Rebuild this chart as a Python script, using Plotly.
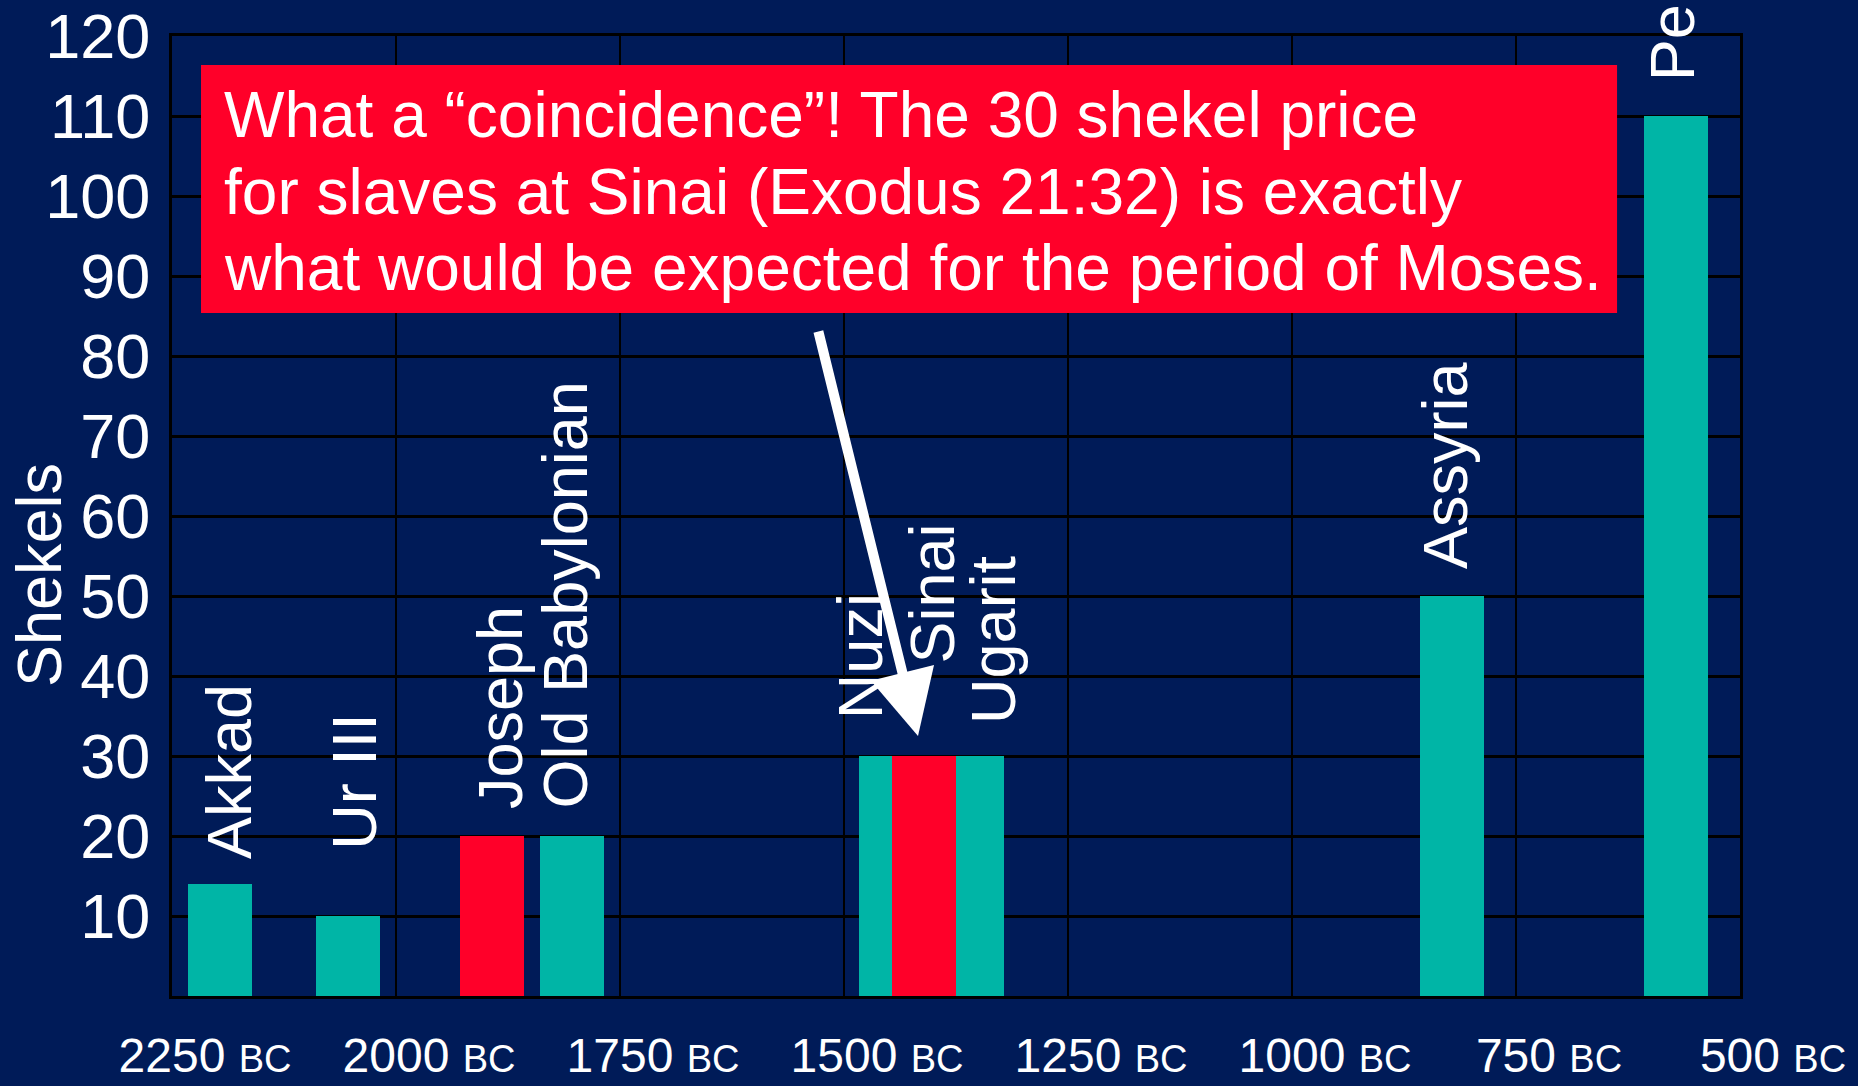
import plotly.graph_objects as go

# ---------------- data ----------------
teal_names = ["Akkad", "Ur III", "Old Babylonian", "Nuzi", "Ugarit", "Assyria", "Persia"]
teal_years = [2196, 2054, 1804, 1448, 1357, 821, 571]          # approx. years BC
teal_shekels = [14, 10, 20, 30, 30, 50, 110]

red_names = ["Joseph", "Sinai"]
red_years = [1893, 1411]
red_shekels = [20, 30]

tick_years = [2250, 2000, 1750, 1500, 1250, 1000, 750, 500]
tick_numbers = ["2250", "2000", "1750", "1500", "1250", "1000", "750", "500"]
era_label = "BC"
y_ticks = [10, 20, 30, 40, 50, 60, 70, 80, 90, 100, 110, 120]
y_title = "Shekels"

callout_lines = [
    "What a \u201ccoincidence\u201d! The 30 shekel price",
    "for slaves at Sinai (Exodus 21:32) is exactly",
    "what would be expected for the period of Moses.",
]

# ---------------- style ----------------
NAVY = "#001B58"
TEAL = "#00B5A6"
RED = "#FF0029"
WHITE = "#FFFFFF"
FONT = "Arial, 'Liberation Sans', sans-serif"
BAR_W = 71.4  # years

fig = go.Figure()
fig.add_trace(go.Bar(x=teal_years, y=teal_shekels, width=BAR_W, name="Other",
                     marker=dict(color=TEAL, line=dict(width=0)),
                     hovertext=teal_names, showlegend=False))
fig.add_trace(go.Bar(x=red_years, y=red_shekels, width=BAR_W, name="Biblical",
                     marker=dict(color=RED, line=dict(width=0)),
                     hovertext=red_names, showlegend=False))

ticktext = [f"{n} <span style='font-size:38px'>{era_label}</span>" for n in tick_numbers]

fig.update_layout(
    width=1858, height=1086,
    margin=dict(l=172, r=118, t=36, b=90, pad=0, autoexpand=False),
    paper_bgcolor=NAVY, plot_bgcolor=NAVY,
    barmode="overlay", bargap=0,
    font=dict(family=FONT, color=WHITE),
    xaxis=dict(range=[2250, 500], tickmode="array", tickvals=tick_years, ticktext=ticktext,
               showgrid=True, gridcolor="black", gridwidth=2, automargin=False,
               showline=True, linecolor="black", linewidth=3, mirror=True,
               zeroline=False, ticks="", tickfont=dict(size=48, color=WHITE, family=FONT),
               ticklabelshift=-33, ticklabelstandoff=15),
    yaxis=dict(range=[0, 120], tickmode="array", tickvals=y_ticks, automargin=False,
               showgrid=True, gridcolor="black", gridwidth=3,
               showline=True, linecolor="black", linewidth=3, mirror=True,
               zeroline=False, ticks="", tickfont=dict(size=63, color=WHITE, family=FONT),
               ticklabelstandoff=6),
)

# callout box
fig.add_shape(type="rect", xref="paper", yref="paper",
              x0=0.0185, x1=0.9216, y0=0.7115, y1=0.9698,
              fillcolor=RED, line=dict(width=0), layer="above")

annotations = []
# callout text lines
for line, yp in zip(callout_lines, [0.9177, 0.8375, 0.7583]):
    annotations.append(dict(text=line, xref="paper", yref="paper", x=0.0325, y=yp,
                            xanchor="left", yanchor="middle", showarrow=False,
                            font=dict(size=64, color=WHITE, family=FONT), borderpad=0))

# rotated bar labels (position: x in years, y = bottom of text in shekels)
label_pos = [
    ("Akkad", 2187, 17.0),
    ("Ur III", 2047, 18.2),
    ("Joseph", 1884, 23.3),
    ("Old Babylonian", 1811, 23.3),
    ("Nuzi", 1482, 34.5),
    ("Sinai", 1402, 41.4),
    ("Ugarit", 1333, 33.9),
    ("Assyria", 829, 53.2),
    ("Persia", 575, 114.2),
]
for txt, xv, yv in label_pos:
    annotations.append(dict(text=txt, x=xv, y=yv, xref="x", yref="y",
                            textangle=-90, xanchor="center", yanchor="bottom",
                            showarrow=False, borderpad=0,
                            font=dict(size=63, color=WHITE, family=FONT)))

# y-axis title
annotations.append(dict(text=y_title, xref="paper", yref="paper", x=-0.0848, y=0.4385,
                        textangle=-90, xanchor="center", yanchor="middle", showarrow=False,
                        font=dict(size=63, color=WHITE, family=FONT)))

# arrow pointing to Sinai
annotations.append(dict(text="", x=1417.4, y=32.5, xref="x", yref="y",
                        ax=-100, ay=-406, axref="pixel", ayref="pixel",
                        showarrow=True, arrowhead=2, arrowsize=1.3, arrowwidth=10,
                        arrowcolor=WHITE, standoff=0))

fig.update_layout(annotations=annotations)

fig.write_html("out.html", config={"displayModeBar": False},
               post_script="document.body.style.margin='0';document.body.style.overflow='hidden';")
